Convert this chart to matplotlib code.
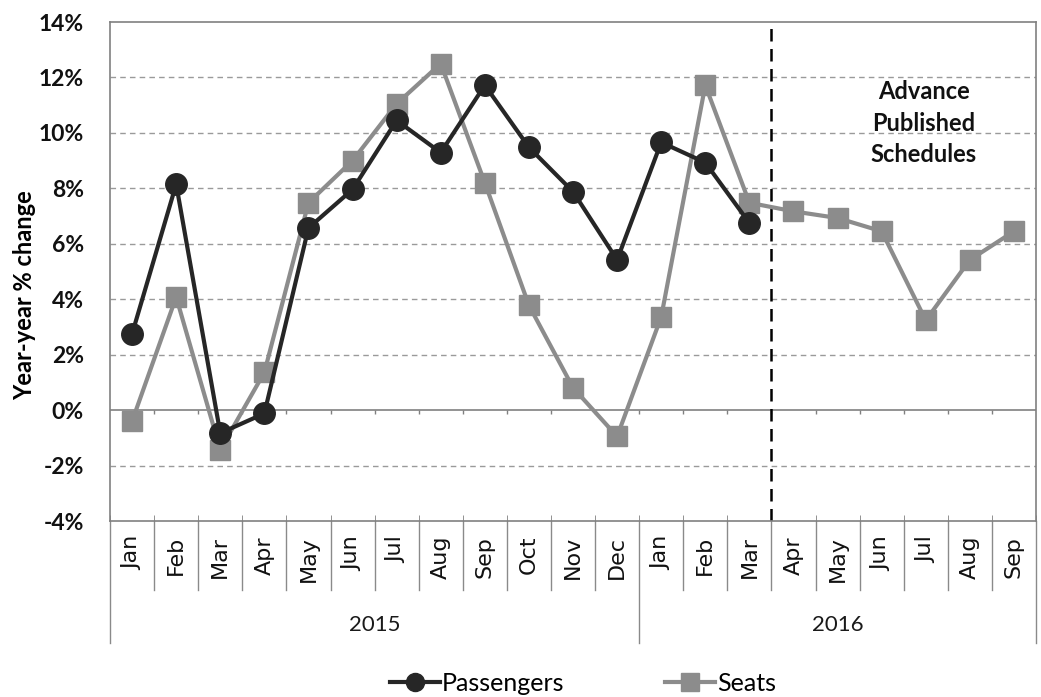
#!/usr/bin/env python3
"""Year-over-year change in passengers and seats, 2015-2016."""

import matplotlib
matplotlib.use("Agg")
import matplotlib.pyplot as plt
import matplotlib.transforms as mtransforms
import numpy as np


MONTHS = ["Jan", "Feb", "Mar", "Apr", "May", "Jun", "Jul", "Aug", "Sep", "Oct", "Nov", "Dec",
          "Jan", "Feb", "Mar", "Apr", "May", "Jun", "Jul", "Aug", "Sep"]
YEARS = ["2015", "2016"]
YEAR_SPANS = [(0, 12), (12, 21)]

passengers = [2.75, 8.15, -0.83, -0.12, 6.57, 7.96, 10.45, 9.29, 11.72, 9.48, 7.88, 5.42,
              9.66, 8.93, 6.75]
seats = [-0.40, 4.08, -1.43, 1.36, 7.48, 9.00, 11.05, 12.50, 8.20, 3.78, 0.81, -0.95,
         3.36, 11.72, 7.48, 7.17, 6.93, 6.45, 3.24, 5.42, 6.45]

Y_TICKS = [-4, -2, 0, 2, 4, 6, 8, 10, 12, 14]
ADVANCE_START = 15  # first month from advance published schedules (Apr 2016)

DARK = "#262626"
GREY = "#8c8c8c"
GRID = "#9a9a9a"
SANS = ["Lato", "DejaVu Sans"]


def main() -> None:
    fig = plt.figure(figsize=(10.41, 6.97), dpi=100)
    ax = fig.add_axes([0.1057, 0.2525, 0.8895, 0.7159])

    x = np.arange(len(MONTHS))
    ax.plot(np.arange(len(seats)), seats, color=GREY, lw=3, marker="s", ms=15,
            mfc=GREY, mec=GREY, label="Seats", zorder=3)
    ax.plot(np.arange(len(passengers)), passengers, color=DARK, lw=3, marker="o", ms=15.5,
            mfc=DARK, mec=DARK, label="Passengers", zorder=4)

    ax.set_xlim(-0.5, len(MONTHS) - 0.5)
    ax.set_ylim(Y_TICKS[0], Y_TICKS[-1])
    ax.set_yticks(Y_TICKS)
    ax.set_yticklabels([f"{t}%" for t in Y_TICKS], fontsize=16.5, family=SANS,
                       fontweight="bold", color="#111111")
    ax.tick_params(axis="y", length=0, pad=19)

    for t in Y_TICKS[1:-1]:
        if t == 0:
            continue
        ax.axhline(t, color=GRID, lw=1, ls=(0, (4, 3)), zorder=1)
    ax.axhline(0, color="#808080", lw=1.2, zorder=1)

    for s in ax.spines.values():
        s.set_color("#808080")
        s.set_linewidth(1.2)

    bounds = np.arange(len(MONTHS) + 1) - 0.5
    # small tick marks hanging from the 0% line
    ax.vlines(bounds[1:-1], -0.15, 0, color="#808080", lw=1, zorder=1)

    ax.set_xticks(bounds, minor=True)
    ax.set_xticks([])
    ax.tick_params(axis="x", which="minor", direction="in", length=4, color="#808080")

    # vertical dashed line marking start of advance schedules
    ax.axvline(ADVANCE_START - 0.5, color="black", lw=1.8, ls=(0, (5, 3)), zorder=2)
    ax.text(17.95, 10.35, "Advance\nPublished\nSchedules", ha="center", va="center",
            fontsize=17, fontweight="bold", family=SANS, linespacing=1.45, color="#111111")

    # multi-level category axis
    trans = mtransforms.blended_transform_factory(ax.transData, ax.transAxes)
    for i, m in enumerate(MONTHS):
        ax.text(x[i], -0.03, m, transform=trans, rotation=90, ha="center", va="top",
                fontsize=16, family=["DejaVu Sans"], color="#111111")
    year_edges = {-0.5, 11.5, 20.5}
    for b in bounds:
        low = -0.245 if b in year_edges else -0.138
        ax.plot([b, b], [0, low], transform=trans, color="#8a8a8a", lw=1, clip_on=False)
    for name, (a, b) in zip(YEARS, YEAR_SPANS):
        ax.text((a + b - 1) / 2, -0.208, name, transform=trans, ha="center", va="center",
                fontsize=16, family=SANS, color="#1a1a1a")

    ax.set_ylabel("Year-year % change", fontsize=17, fontweight="bold", family=SANS)
    ax.yaxis.set_label_coords(-0.08, 0.453)

    handles, labels = ax.get_legend_handles_labels()
    order = [1, 0]
    leg = fig.legend([handles[i] for i in order], [labels[i] for i in order],
                     loc="center", bbox_to_anchor=(0.56, 0.02), ncol=2, frameon=False,
                     prop={"family": SANS, "size": 18}, handlelength=2.0,
                     handletextpad=0.1, columnspacing=4.0)
    for h in leg.legend_handles:
        h.set_markersize(13)

    fig.savefig("out.png", dpi=100)
    plt.close(fig)


if __name__ == "__main__":
    main()
